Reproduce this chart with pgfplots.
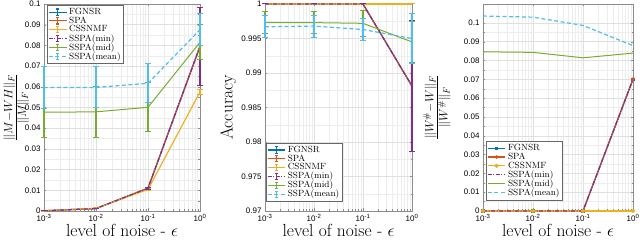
\documentclass[border=0pt]{standalone}
\usepackage{fontspec}
\usepackage{pgfplots}
\pgfplotsset{compat=1.18}
\newfontfamily\tickfont{Liberation Sans}
\definecolor{c1}{rgb}{0,0.447,0.741}
\definecolor{c2}{rgb}{0.85,0.325,0.098}
\definecolor{c3}{rgb}{0.929,0.694,0.125}
\definecolor{c4}{rgb}{0.494,0.184,0.556}
\definecolor{c5}{rgb}{0.466,0.674,0.188}
\definecolor{c6}{rgb}{0.301,0.745,0.933}
\pgfplotsset{
  every axis/.append style={
    scale only axis, height=207pt,
    xmin=0.001, xmax=1,
    xtick={0.001,0.01,0.1,1},
    xticklabels={10\textsuperscript{-3},10\textsuperscript{-2},10\textsuperscript{-1},10\textsuperscript{0}},
    tick label style={font=\tickfont\fontsize{8}{9}\selectfont},
    grid=both, major grid style={black!12, line width=0.4pt}, minor grid style={black!7, line width=0.3pt},
    axis line style={black!45}, tick style={black!45},
    tick align=inside, major tick length=2.5pt, minor tick length=1.5pt,
    minor y tick num=1,
    xlabel={level of noise - $\epsilon$},
    label style={font=\fontsize{17.5}{20}\selectfont},
    xlabel style={at={(axis description cs:0.5,0)}, anchor=base, yshift=-26pt},
    legend style={font=\fontsize{9}{9}\selectfont, draw=black!60, inner sep=1pt, row sep=-3.2pt, cells={anchor=west}},
    legend cell align=left,
    clip=false,
  },
}
\tikzset{
  mdash/.style={dash pattern=on 4pt off 2.5pt},
  mdashdot/.style={dash pattern=on 4pt off 1.5pt on 1pt off 1.5pt},
}
% error bar options with explicit colour
\pgfplotsset{
  ebc/.style={error bars/y dir=both, error bars/y explicit,
    error bars/error bar style={line width=2pt, solid, draw=#1},
    error bars/error mark options={rotate=90, mark size=2.6pt, line width=1pt, solid, draw=#1}},
}
\begin{document}
\begin{tikzpicture}
\path[use as bounding box] (0,0) rectangle (640pt,240pt);
% Panel 1
\begin{axis}[xmode=log, at={(44pt,29pt)}, anchor=south west, width=156pt,
  /pgf/number format/assume math mode=true,
  ymin=0, ymax=0.1, ytick={0,0.01,...,0.1},
  yticklabel style={/pgf/number format/fixed, /pgf/number format/precision=2},
  ylabel={$\frac{\|M-WH\|_F}{\|M\|_F}$},
  ylabel style={at={(axis description cs:-0.178,0.5)}, anchor=center},
  legend style={at={(0.02,0.995)}, anchor=north west},
  legend image code/.code={
    \draw[#1] (0cm,0cm) -- (0.62cm,0cm);
    \draw[#1, solid, line width=1.1pt] (0.31cm,-0.11cm) -- (0.31cm,0.11cm) (0.25cm,-0.11cm) -- (0.37cm,-0.11cm) (0.25cm,0.11cm) -- (0.37cm,0.11cm);
  }]
\addplot[c1, line width=1.2pt, ebc=c1] coordinates {(0.001,0.0001) +- (0,0) (0.01,0.0012) +- (0,0) (0.1,0.011) +- (0,0.0005) (1,0.0795) +- (0,0.019)};
\addlegendentry{FGNSR}
\addplot[c2, line width=1.2pt, ebc=c2] coordinates {(0.001,0.0001) +- (0,0) (0.01,0.0012) +- (0,0) (0.1,0.011) +- (0,0.0005) (1,0.0795) +- (0,0.019)};
\addlegendentry{SPA}
\addplot[c3, line width=1.2pt, ebc=c3] coordinates {(0.001,0.0001) +- (0,0.0002) (0.01,0.0013) +- (0,0.0003) (0.1,0.0104) +- (0,0.0003) (1,0.0575) +- (0,0.0013)};
\addlegendentry{CSSNMF}
\addplot[c4, line width=1.2pt, mdashdot, ebc=c4] coordinates {(0.001,0.0001) +- (0,0) (0.01,0.0012) +- (0,0) (0.1,0.011) +- (0,0.0005) (1,0.0795) +- (0,0.019)};
\addlegendentry{SSPA(min)}
\addplot[c5, line width=1pt, ebc=c5] coordinates {(0.001,0.0477) +- (0,0.0121) (0.01,0.0479) +- (0,0.0122) (0.1,0.0501) +- (0,0.0118) (1,0.0815) +- (0,0.0085)};
\addlegendentry{SSPA(mid)}
\addplot[c6, line width=1.2pt, mdash, ebc=c6] coordinates {(0.001,0.0596) +- (0,0.0100) (0.01,0.0597) +- (0,0.0099) (0.1,0.0617) +- (0,0.0095) (1,0.0876) +- (0,0.0076)};
\addlegendentry{SSPA(mean)}
\end{axis}
% Panel 2
\begin{axis}[xmode=log, at={(265pt,29pt)}, anchor=south west, width=147pt,
  /pgf/number format/assume math mode=true,
  ymin=0.97, ymax=1, ytick={0.97,0.975,0.98,0.985,0.99,0.995,1},
  yticklabel style={/pgf/number format/fixed, /pgf/number format/precision=3},
  ylabel={Accuracy},
  ylabel style={at={(axis description cs:-0.25,0.5)}, anchor=center},
  legend style={at={(0.005,0.045)}, anchor=south west},
  legend image code/.code={
    \draw[#1] (0cm,0cm) -- (0.62cm,0cm);
    \draw[#1, solid, line width=1.1pt] (0.31cm,-0.11cm) -- (0.31cm,0.11cm) (0.25cm,-0.11cm) -- (0.37cm,-0.11cm) (0.25cm,0.11cm) -- (0.37cm,0.11cm);
  }]
\addplot[c1, line width=1.2pt, ebc=c1] coordinates {(0.001,1) +- (0,0) (0.01,1) +- (0,0) (0.1,1) +- (0,0) (1,0.9881) +- (0,0.0095)};
\addlegendentry{FGNSR}
\addplot[c2, line width=1.2pt, ebc=c2] coordinates {(0.001,1) +- (0,0) (0.01,1) +- (0,0) (0.1,1) +- (0,0) (1,0.9881) +- (0,0.0095)};
\addlegendentry{SPA}
\addplot[c3, line width=1.2pt, ebc=c3] coordinates {(0.001,1) +- (0,0) (0.01,1) +- (0,0) (0.1,1) +- (0,0) (1,1) +- (0,0)};
\addlegendentry{CSSNMF}
\addplot[c4, line width=1.2pt, mdashdot, ebc=c4] coordinates {(0.001,1) +- (0,0) (0.01,1) +- (0,0) (0.1,1) +- (0,0) (1,0.9881) +- (0,0.0095)};
\addlegendentry{SSPA(min)}
\addplot[c5, line width=1pt, ebc=c5] coordinates {(0.001,0.9973) +- (0,0.0016) (0.01,0.9973) +- (0,0.0016) (0.1,0.9972) +- (0,0.0019) (1,0.9945) +- (0,0.0030)};
\addlegendentry{SSPA(mid)}
\addplot[c6, line width=1.2pt, mdash, ebc=c6] coordinates {(0.001,0.9967) +- (0,0.0016) (0.01,0.9968) +- (0,0.0016) (0.1,0.9963) +- (0,0.0016) (1,0.9950) +- (0,0.0036)};
\addlegendentry{SSPA(mean)}
\end{axis}
% Panel 3
\begin{axis}[xmode=log, at={(483pt,29pt)}, anchor=south west, width=150pt,
  /pgf/number format/assume math mode=true,
  ymin=0, ymax=0.11, ytick={0,0.01,...,0.1},
  yticklabel style={/pgf/number format/fixed, /pgf/number format/precision=2},
  ylabel={$\frac{\|W^\# - W\|_F}{\|W^\#\|_F}$},
  ylabel style={at={(axis description cs:-0.307,0.5)}, anchor=center},
  legend style={at={(0.02,0.053)}, anchor=south west},
  legend image code/.code={
    \draw[mark repeat=2, mark phase=2, #1] plot coordinates {(0cm,0cm) (0.31cm,0cm) (0.62cm,0cm)};
  }]
\addplot[c1, line width=1.2pt, mark=square*, mark size=1pt] coordinates {(0.001,0) (0.01,0) (0.1,0) (1,0.070)};
\addlegendentry{FGNSR}
\addplot[c2, line width=1.2pt, mark=*, mark size=1.2pt] coordinates {(0.001,0) (0.01,0) (0.1,0) (1,0.070)};
\addlegendentry{SPA}
\addplot[c3, line width=1.2pt, mark=asterisk, mark size=2pt] coordinates {(0.001,0) (0.01,0) (0.1,0) (1,0)};
\addlegendentry{CSSNMF}
\addplot[c4, line width=1.2pt, mdashdot] coordinates {(0.001,0) (0.01,0) (0.1,0) (1,0.070)};
\addlegendentry{SSPA(min)}
\addplot[c5, line width=1pt] coordinates {(0.001,0.0846) (0.01,0.0843) (0.1,0.0814) (1,0.0839)};
\addlegendentry{SSPA(mid)}
\addplot[c6, line width=1.2pt, mdash] coordinates {(0.001,0.1036) (0.01,0.1030) (0.1,0.0986) (1,0.0879)};
\addlegendentry{SSPA(mean)}
\end{axis}
\end{tikzpicture}
\end{document}
